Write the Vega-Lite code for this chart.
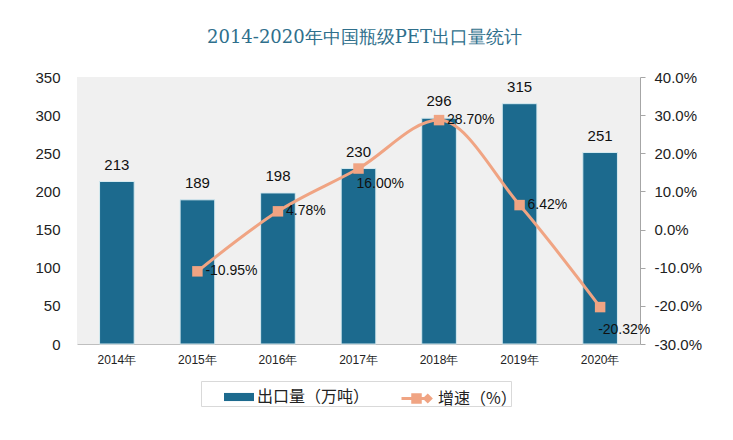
{
  "$schema": "https://vega.github.io/schema/vega-lite/v6.json",
  "width": 563,
  "height": 267,
  "autosize": "none",
  "padding": {"left": 77, "top": 77, "right": 93, "bottom": 96},
  "background": "white",
  "title": {
    "text": "2014-2020年中国瓶级PET出口量统计",
    "font": "DejaVu Serif",
    "fontSize": 18,
    "fontWeight": "normal",
    "color": "#2F6F8C",
    "offset": 23,
    "dx": 6
  },
  "config": {
    "view": {"fill": "#f0f0f0", "stroke": null},
    "axis": {"labelFont": "Liberation Sans", "labelColor": "#222222", "grid": false}
  },
  "data": {
    "values": [
      {"year": "2014年", "volume": 213, "rate": null},
      {"year": "2015年", "volume": 189, "rate": -0.1095},
      {"year": "2016年", "volume": 198, "rate": 0.0478},
      {"year": "2017年", "volume": 230, "rate": 0.16},
      {"year": "2018年", "volume": 296, "rate": 0.287},
      {"year": "2019年", "volume": 315, "rate": 0.0642},
      {"year": "2020年", "volume": 251, "rate": -0.2032}
    ]
  },
  "encoding": {
    "x": {
      "field": "year",
      "type": "nominal",
      "sort": null,
      "scale": {"paddingInner": 0.57, "paddingOuter": 0.28},
      "axis": {
        "title": null,
        "labelAngle": 0,
        "labelFontSize": 12,
        "labelPadding": 10,
        "ticks": false,
        "domainColor": "#bfbfbf",
        "domainWidth": 1
      }
    }
  },
  "layer": [
    {
      "encoding": {
        "y": {
          "field": "volume",
          "type": "quantitative",
          "scale": {"domain": [0, 350], "nice": false},
          "axis": {
            "title": null,
            "values": [0, 50, 100, 150, 200, 250, 300, 350],
            "labelOverlap": false,
            "labelBound": false,
            "labelFlush": false,
            "domain": false,
            "ticks": false,
            "labelFontSize": 15,
            "labelPadding": 17
          }
        }
      },
      "layer": [
        {
          "mark": {"type": "bar", "stroke": "#d6eaf0", "strokeWidth": 1},
          "encoding": {
            "color": {
              "datum": "出口量（万吨）",
              "type": "nominal",
              "scale": {"domain": ["出口量（万吨）", " "], "range": ["#1C6A8E", "transparent"]},
              "legend": {
                "title": null,
                "orient": "none",
                "legendX": 124,
                "legendY": 304,
                "direction": "horizontal",
                "strokeColor": "#d9d9d9",
                "padding": 1,
                "labelFont": "Noto Sans CJK SC",
                "labelFontSize": 16,
                "labelColor": "#222222",
                "symbolType": "M-1,-0.27H1V0.27H-1Z",
                "symbolSize": 900,
                "symbolOffset": 22,
                "symbolStrokeWidth": 0,
                "columnPadding": 85,
                "labelOffset": 3
              }
            }
          }
        },
        {
          "mark": {"type": "text", "baseline": "bottom", "dy": -9, "font": "Liberation Sans", "fontSize": 15, "color": "#111111"},
          "encoding": {
            "text": {"field": "volume", "type": "quantitative"}
          }
        }
      ]
    },
    {
      "transform": [
        {"filter": "datum.rate != null"},
        {"calculate": "replace(format(datum.rate, '.2%'), '\u2212', '-')", "as": "rateLabel"}
      ],
      "encoding": {
        "y": {
          "field": "rate",
          "type": "quantitative",
          "scale": {"domain": [-0.3, 0.4], "nice": false},
          "axis": {
            "orient": "right",
            "title": null,
            "labelExpr": "replace(format(datum.value, '.1%'), '\u2212', '-')",
            "values": [-0.3, -0.2, -0.1, 0, 0.1, 0.2, 0.3, 0.4],
            "labelOverlap": false,
            "labelBound": false,
            "labelFlush": false,
            "domainColor": "#a6a6a6",
            "tickColor": "#a6a6a6",
            "tickSize": 5,
            "labelFontSize": 15,
            "labelPadding": 9
          }
        }
      },
      "layer": [
        {
          "mark": {"type": "line", "interpolate": "monotone", "strokeWidth": 3},
          "encoding": {
            "stroke": {
              "datum": "增速（%）",
              "type": "nominal",
              "scale": {"domain": ["增速（%）"], "range": ["#F0A483"]},
              "legend": {
                "title": null,
                "orient": "none",
                "legendX": 323,
                "legendY": 305,
                "direction": "horizontal",
                "padding": 0,
                "labelFont": "Noto Sans CJK SC",
                "labelFontSize": 16,
                "labelColor": "#222222",
                "symbolType": "M-1,0H0.75M-0.25,-0.25H0.25V0.25H-0.25ZM0.75,-0.2L0.95,0L0.75,0.2L0.55,0Z",
                "symbolSize": 900,
                "symbolStrokeWidth": 3,
                "symbolFillColor": "#F0A483",
                "labelOffset": 5
              }
            }
          }
        },
        {
          "mark": {"type": "square", "size": 110, "filled": true, "color": "#F0A483", "opacity": 1},
          "encoding": {}
        },
        {
          "transform": [{"filter": "datum.year != '2017年' && datum.year != '2020年'"}],
          "mark": {"type": "text", "align": "left", "baseline": "middle", "dx": 8, "font": "Liberation Sans", "fontSize": 14, "color": "#111111"},
          "encoding": {
            "text": {"field": "rateLabel", "type": "nominal"}
          }
        },
        {
          "transform": [{"filter": "datum.year == '2017年'"}],
          "mark": {"type": "text", "align": "left", "baseline": "middle", "dx": -2, "dy": 15, "font": "Liberation Sans", "fontSize": 14, "color": "#111111"},
          "encoding": {
            "text": {"field": "rateLabel", "type": "nominal"}
          }
        },
        {
          "transform": [{"filter": "datum.year == '2020年'"}],
          "mark": {"type": "text", "align": "left", "baseline": "middle", "dx": -2, "dy": 23, "font": "Liberation Sans", "fontSize": 14, "color": "#111111"},
          "encoding": {
            "text": {"field": "rateLabel", "type": "nominal"}
          }
        }
      ]
    }
  ],
  "resolve": {"scale": {"y": "independent"}}
}
